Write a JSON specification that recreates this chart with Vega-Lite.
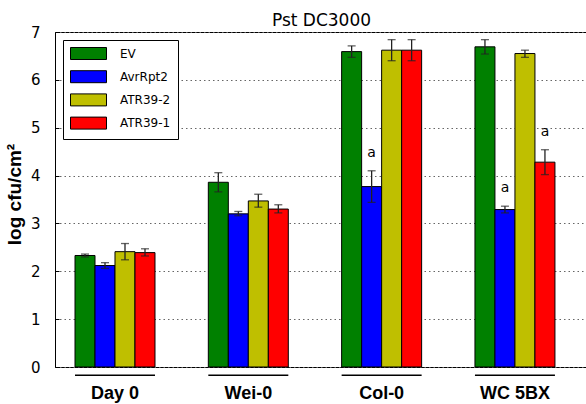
{
  "$schema": "https://vega.github.io/schema/vega-lite/v6.json",
  "autosize": "none",
  "width": 533,
  "height": 335,
  "padding": {"left": 55, "top": 32, "right": 0, "bottom": 37},
  "background": "white",
  "config": {
    "view": {"stroke": "black", "strokeWidth": 1},
    "font": "DejaVu Sans"
  },
  "title": {"text": "Pst DC3000", "font": "DejaVu Sans", "fontSize": 17, "fontWeight": "normal", "color": "black", "offset": -5},
  "data": {"values": [
    {"group": "Day 0", "line": "EV", "value": 2.33, "lo": 2.30, "hi": 2.36, "sig": ""},
    {"group": "Day 0", "line": "AvrRpt2", "value": 2.12, "lo": 2.06, "hi": 2.18, "sig": ""},
    {"group": "Day 0", "line": "ATR39-2", "value": 2.41, "lo": 2.24, "hi": 2.58, "sig": ""},
    {"group": "Day 0", "line": "ATR39-1", "value": 2.39, "lo": 2.32, "hi": 2.47, "sig": ""},
    {"group": "Wei-0", "line": "EV", "value": 3.86, "lo": 3.66, "hi": 4.06, "sig": ""},
    {"group": "Wei-0", "line": "AvrRpt2", "value": 3.20, "lo": 3.16, "hi": 3.25, "sig": ""},
    {"group": "Wei-0", "line": "ATR39-2", "value": 3.47, "lo": 3.34, "hi": 3.61, "sig": ""},
    {"group": "Wei-0", "line": "ATR39-1", "value": 3.30, "lo": 3.22, "hi": 3.39, "sig": ""},
    {"group": "Col-0", "line": "EV", "value": 6.59, "lo": 6.47, "hi": 6.71, "sig": ""},
    {"group": "Col-0", "line": "AvrRpt2", "value": 3.77, "lo": 3.44, "hi": 4.10, "sig": "a"},
    {"group": "Col-0", "line": "ATR39-2", "value": 6.62, "lo": 6.40, "hi": 6.84, "sig": ""},
    {"group": "Col-0", "line": "ATR39-1", "value": 6.62, "lo": 6.40, "hi": 6.84, "sig": ""},
    {"group": "WC 5BX", "line": "EV", "value": 6.69, "lo": 6.54, "hi": 6.84, "sig": ""},
    {"group": "WC 5BX", "line": "AvrRpt2", "value": 3.29, "lo": 3.22, "hi": 3.36, "sig": "a"},
    {"group": "WC 5BX", "line": "ATR39-2", "value": 6.55, "lo": 6.47, "hi": 6.62, "sig": ""},
    {"group": "WC 5BX", "line": "ATR39-1", "value": 4.28, "lo": 4.02, "hi": 4.54, "sig": "a"}
  ]},
  "encoding": {
    "x": {
      "field": "group", "type": "nominal", "sort": ["Day 0", "Wei-0", "Col-0", "WC 5BX"],
      "scale": {"paddingInner": 0.4, "paddingOuter": 0.199, "align": 0.377},
      "axis": {"title": null, "domain": false, "ticks": false, "labelAngle": 0, "labelFont": "Liberation Sans", "labelFontWeight": "bold", "labelFontSize": 18, "labelColor": "black", "labelPadding": 17, "labelBaseline": "top", "labelDx": 4}
    }
  },
  "layer": [
    {
      "mark": {"type": "bar", "stroke": "black", "strokeWidth": 1},
      "encoding": {
        "xOffset": {"field": "line", "type": "nominal", "sort": ["EV", "AvrRpt2", "ATR39-2", "ATR39-1"], "scale": {"paddingInner": 0, "paddingOuter": 0}},
        "y": {
          "field": "value", "type": "quantitative",
          "scale": {"domain": [0, 7], "nice": false},
          "axis": {"title": "log cfu/cm²", "titleFont": "Liberation Sans", "titleFontWeight": "bold", "titleFontSize": 19, "titleColor": "black", "titlePadding": 6, "titleY": 162,
                   "values": [0, 1, 2, 3, 4, 5, 6, 7], "labelFont": "DejaVu Sans", "labelFontSize": 15, "labelColor": "black", "labelPadding": 19,
                   "tickSize": -4, "tickColor": "black", "domainColor": "black",
                   "grid": true, "gridDash": [1.5, 3], "gridColor": "#666666", "gridWidth": 1}
        },
        "color": {
          "field": "line", "type": "nominal",
          "sort": ["EV", "AvrRpt2", "ATR39-2", "ATR39-1"],
          "scale": {"domain": ["EV", "AvrRpt2", "ATR39-2", "ATR39-1"], "range": ["#008000", "#0000ff", "#bfbf00", "#ff0000"]},
          "legend": {
            "title": null, "orient": "top-left", "offset": 8,
            "strokeColor": "black", "fillColor": "white", "padding": 7, "cornerRadius": 0,
            "symbolType": "M-3,-1H3V1H-3Z", "symbolSize": 144, "symbolOffset": 12,
            "symbolStrokeColor": "black", "symbolStrokeWidth": 1, "symbolOpacity": 1,
            "labelFont": "DejaVu Sans", "labelFontSize": 12, "labelColor": "black",
            "labelOffset": 25, "rowPadding": 6.2
          }
        }
      }
    },
    {
      "mark": {"type": "rule", "color": "#222222", "strokeWidth": 1.3},
      "encoding": {
        "xOffset": {"field": "line", "type": "nominal", "sort": ["EV", "AvrRpt2", "ATR39-2", "ATR39-1"]},
        "y": {"field": "lo", "type": "quantitative"},
        "y2": {"field": "hi"}
      }
    },
    {
      "mark": {"type": "tick", "color": "#222222", "size": 8, "thickness": 1.3},
      "encoding": {
        "xOffset": {"field": "line", "type": "nominal", "sort": ["EV", "AvrRpt2", "ATR39-2", "ATR39-1"]},
        "y": {"field": "lo", "type": "quantitative"}
      }
    },
    {
      "mark": {"type": "tick", "color": "#222222", "size": 8, "thickness": 1.3},
      "encoding": {
        "xOffset": {"field": "line", "type": "nominal", "sort": ["EV", "AvrRpt2", "ATR39-2", "ATR39-1"]},
        "y": {"field": "hi", "type": "quantitative"}
      }
    },
    {
      "transform": [{"filter": "datum.sig != ''"}],
      "mark": {"type": "text", "font": "DejaVu Sans", "fontSize": 14, "color": "black", "dy": -18, "baseline": "middle"},
      "encoding": {
        "xOffset": {"field": "line", "type": "nominal", "sort": ["EV", "AvrRpt2", "ATR39-2", "ATR39-1"]},
        "y": {"field": "hi", "type": "quantitative"},
        "text": {"field": "sig"}
      }
    },
    {
      "transform": [{"filter": "datum.line == 'EV'"}],
      "mark": {"type": "bar", "color": "black", "clip": false},
      "encoding": {
        "y": {"datum": -0.155},
        "y2": {"datum": -0.19}
      }
    }
  ]
}
